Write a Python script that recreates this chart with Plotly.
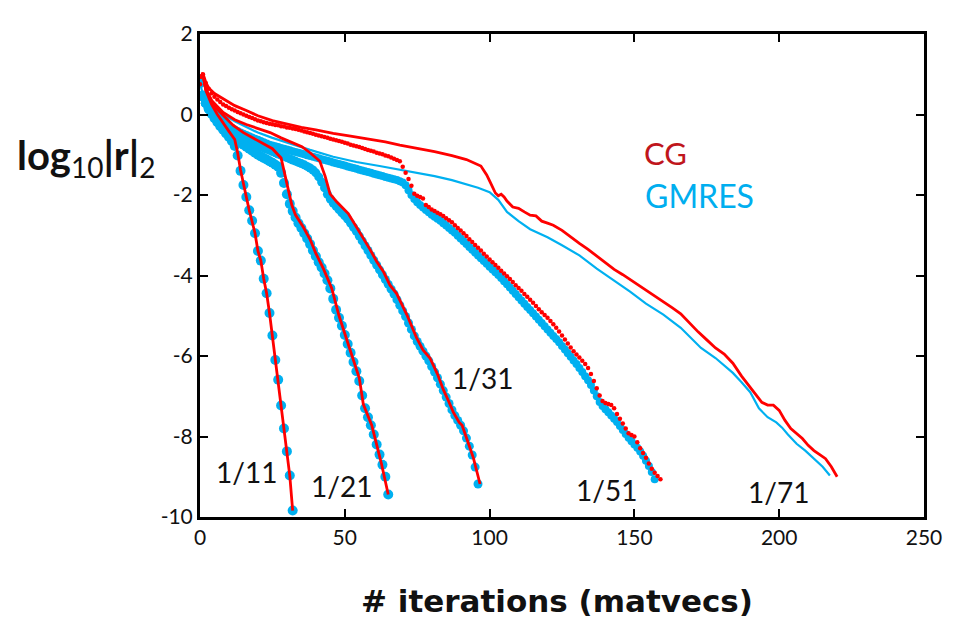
import plotly.graph_objects as go

# ---------------- data ----------------
# CG residual histories (solid red lines), log10 |r|_2 vs iteration
cg11_x = [0, 1, 2, 4, 6, 8, 10, 12, 13, 14, 15, 16, 17, 18, 19, 20, 21, 22, 23, 24, 25, 26, 27, 28, 29, 30, 31, 32]
cg11_y = [0.9, 1.02, 0.6, 0.25, 0.0, -0.22, -0.42, -0.62, -0.95, -1.38, -1.75, -2.05, -2.38, -2.64, -2.95, -3.39,
          -3.63, -4.08, -4.44, -4.93, -5.49, -6.10, -6.59, -7.23, -7.80, -8.37, -8.97, -9.84]

cg21_x = [0, 1, 2, 5, 8, 11.5, 15, 20, 25, 28, 29, 30, 31.7, 33, 35.7, 38, 40, 42.6, 45.5, 48, 50, 52, 55, 56.4,
          59.3, 61, 62.7, 65]
cg21_y = [0.9, 1.02, 0.62, 0.2, -0.02, -0.27, -0.45, -0.65, -0.85, -1.08, -1.4, -1.75, -2.25, -2.5, -2.8, -3.1,
          -3.45, -3.83, -4.32, -5.0, -5.45, -5.9, -6.55, -7.2, -7.72, -8.2, -8.69, -9.44]

cg31_x = [0, 1, 2, 4, 8, 12, 16, 20, 24.2, 28, 32, 35.2, 38, 41.4, 42.3, 43.2, 44.9, 47.2, 51.2, 54.1, 56, 58.7,
          61, 63.3, 65.6, 67.9, 71.4, 74.8, 77, 79.4, 82, 84, 86, 87.5, 89.5, 90.5, 92.1, 94.4, 96.7]
cg31_y = [0.9, 1.02, 0.64, 0.35, 0.05, -0.13, -0.25, -0.35, -0.45, -0.58, -0.7, -0.8, -0.95, -1.16, -1.35, -1.53,
          -1.97, -2.17, -2.46, -2.8, -3.05, -3.35, -3.65, -3.9, -4.24, -4.45, -4.97, -5.55, -5.85, -6.05, -6.45,
          -6.83, -7.15, -7.4, -7.65, -7.72, -8.05, -8.53, -9.18]

cg71_x = [0, 1, 2, 3, 5, 8, 12, 16, 20, 25, 30, 35, 40, 46, 52, 58, 64, 69, 75, 81, 87, 92, 97, 99, 100, 101, 102,
          103, 104, 105, 106, 108, 110, 112, 114, 116, 118, 120, 122, 125, 128, 131, 134, 137, 140, 143, 146, 148.5,
          152, 156, 160, 163, 166, 169, 172, 175, 178, 181, 184, 187, 190, 192, 194, 196, 198, 200, 202, 204, 206,
          208, 210, 212, 214, 216, 218, 220]
cg71_y = [0.9, 1.02, 0.8, 0.66, 0.52, 0.4, 0.22, 0.1, -0.03, -0.15, -0.24, -0.32, -0.38, -0.47, -0.54, -0.61,
          -0.68, -0.76, -0.84, -0.92, -1.02, -1.12, -1.28, -1.5, -1.65, -1.8, -1.95, -2.02, -1.98, -2.05, -2.15,
          -2.3, -2.33, -2.42, -2.5, -2.52, -2.65, -2.7, -2.75, -2.88, -3.05, -3.2, -3.35, -3.51, -3.68, -3.85,
          -3.98, -4.1, -4.27, -4.47, -4.64, -4.8, -4.95, -5.18, -5.4, -5.6, -5.8, -5.95, -6.18, -6.5, -6.78, -6.98,
          -7.15, -7.22, -7.22, -7.35, -7.6, -7.8, -7.93, -8.05, -8.22, -8.35, -8.45, -8.55, -8.75, -9.0]

# CG 1/51 (red dots, one per iteration 0..159)
cg51_y = [0.75, 1.00, 0.78, 0.64, 0.53, 0.44, 0.37, 0.31, 0.25, 0.21, 0.17,
          0.13, 0.10, 0.06, 0.03, 0.00, -0.03, -0.06, -0.09, -0.12, -0.15,
          -0.17, -0.19, -0.21, -0.23, -0.24, -0.26, -0.27, -0.29, -0.30, -0.32,
          -0.33, -0.35, -0.36, -0.38, -0.40, -0.42, -0.44, -0.46, -0.48, -0.50,
          -0.52, -0.54, -0.56, -0.58, -0.60, -0.62, -0.64, -0.66, -0.68, -0.70,
          -0.72, -0.75, -0.77, -0.79, -0.81, -0.83, -0.86, -0.88, -0.90, -0.92,
          -0.95, -0.97, -0.99, -1.02, -1.04, -1.07, -1.10, -1.13, -1.16, -1.30,
          -1.45, -1.60, -1.77, -1.97, -2.02, -2.05, -2.09, -2.25, -2.30, -2.36,
          -2.40, -2.44, -2.48, -2.52, -2.58, -2.63, -2.68, -2.75, -2.82, -2.88,
          -2.95, -3.02, -3.10, -3.17, -3.24, -3.31, -3.38, -3.46, -3.53, -3.60,
          -3.67, -3.74, -3.81, -3.88, -3.95, -4.02, -4.09, -4.16, -4.24, -4.31,
          -4.38, -4.46, -4.53, -4.60, -4.68, -4.76, -4.84, -4.91, -4.98, -5.05,
          -5.13, -5.21, -5.30, -5.39, -5.49, -5.59, -5.69, -5.79, -5.88, -5.96,
          -6.04, -6.12, -6.20, -6.30, -6.45, -6.62, -6.80, -6.98, -7.12, -7.17,
          -7.19, -7.22, -7.30, -7.44, -7.56, -7.68, -7.80, -7.92, -7.96, -8.00,
          -8.14, -8.29, -8.41, -8.53, -8.67, -8.80, -8.90, -8.98, -9.06]

# GMRES residual histories (blue circles, one per iteration)
gm11_y = [0.78, 0.45, 0.28, 0.14, 0.02, -0.09, -0.19, -0.29, -0.38, -0.47, -0.56, -0.66, -0.78, -1.02, -1.40,
          -1.75, -2.05, -2.38, -2.64, -2.95, -3.39, -3.63, -4.08, -4.44, -4.93, -5.49, -6.10, -6.59, -7.23, -7.80,
          -8.37, -8.97, -9.84]

gm21_y = [0.80, 0.45, 0.28, 0.15, 0.04, -0.06, -0.15, -0.23, -0.31, -0.38, -0.45,
          -0.52, -0.58, -0.64, -0.70, -0.75, -0.80, -0.85, -0.90, -0.95, -1.00,
          -1.04, -1.08, -1.12, -1.16, -1.20, -1.25, -1.30, -1.45, -1.70, -1.98,
          -2.22, -2.40, -2.56, -2.70, -2.82, -2.95, -3.08, -3.22, -3.38, -3.52,
          -3.67, -3.80, -3.95, -4.12, -4.32, -4.58, -4.85, -5.05, -5.25, -5.48,
          -5.70, -5.92, -6.15, -6.38, -6.62, -6.98, -7.30, -7.52, -7.72, -7.95,
          -8.20, -8.45, -8.70, -9.00, -9.44]

gm31_y = [0.80, 0.48, 0.30, 0.17, 0.07, -0.02, -0.10, -0.17, -0.24, -0.30, -0.36,
          -0.41, -0.46, -0.51, -0.55, -0.59, -0.63, -0.67, -0.71, -0.74, -0.77,
          -0.80, -0.83, -0.86, -0.89, -0.92, -0.95, -0.98, -1.01, -1.04, -1.07,
          -1.10, -1.13, -1.16, -1.19, -1.22, -1.25, -1.29, -1.33, -1.38, -1.45,
          -1.55, -1.68, -1.82, -1.98, -2.10, -2.20, -2.28, -2.36, -2.44, -2.52,
          -2.60, -2.70, -2.80, -2.90, -3.02, -3.14, -3.26, -3.38, -3.50, -3.62,
          -3.74, -3.86, -3.98, -4.10, -4.22, -4.34, -4.46, -4.60, -4.74, -4.88,
          -5.02, -5.18, -5.34, -5.50, -5.64, -5.76, -5.88, -6.00, -6.12, -6.26,
          -6.40, -6.54, -6.70, -6.86, -7.02, -7.18, -7.34, -7.48, -7.60, -7.72,
          -7.86, -8.04, -8.24, -8.46, -8.76, -9.18]

gm51_y = [0.80, 0.50, 0.35, 0.24, 0.14, 0.05, -0.03, -0.10, -0.17, -0.23, -0.28,
          -0.33, -0.37, -0.41, -0.45, -0.48, -0.51, -0.54, -0.57, -0.60, -0.63,
          -0.66, -0.69, -0.72, -0.75, -0.77, -0.79, -0.81, -0.83, -0.85, -0.87,
          -0.89, -0.91, -0.93, -0.95, -0.97, -0.99, -1.01, -1.03, -1.05, -1.07,
          -1.09, -1.11, -1.13, -1.15, -1.17, -1.19, -1.21, -1.23, -1.25, -1.27,
          -1.29, -1.31, -1.33, -1.35, -1.37, -1.39, -1.41, -1.43, -1.45, -1.47,
          -1.49, -1.51, -1.53, -1.55, -1.57, -1.59, -1.61, -1.63, -1.66, -1.69,
          -1.76, -1.88, -2.00, -2.10, -2.18, -2.25, -2.31, -2.37, -2.43, -2.49,
          -2.54, -2.59, -2.64, -2.70, -2.76, -2.82, -2.88, -2.94, -3.01, -3.08,
          -3.15, -3.22, -3.29, -3.36, -3.43, -3.50, -3.57, -3.64, -3.71, -3.78,
          -3.85, -3.92, -3.99, -4.06, -4.14, -4.22, -4.30, -4.38, -4.46, -4.54,
          -4.62, -4.70, -4.78, -4.86, -4.94, -5.02, -5.10, -5.18, -5.26, -5.34,
          -5.42, -5.50, -5.58, -5.66, -5.75, -5.84, -5.93, -6.02, -6.11, -6.20,
          -6.30, -6.40, -6.50, -6.60, -6.72, -6.86, -7.00, -7.14, -7.24, -7.32,
          -7.40, -7.48, -7.56, -7.64, -7.74, -7.84, -7.94, -8.03, -8.12, -8.20,
          -8.28, -8.37, -8.48, -8.60, -8.73, -8.88, -9.06]

# GMRES 1/71 (thin blue line)
gm71_x = [0, 1, 2, 4, 6, 8, 12, 16, 20, 25, 30, 38, 46, 54, 62, 69, 75, 81, 87, 92, 96, 100, 103, 106, 110, 114,
          120, 125, 131, 137, 143, 148.5, 154, 160, 166, 170, 173, 178, 184, 187, 190, 193, 196, 199, 201, 203, 206,
          209, 212, 215, 217.5]
gm71_y = [0.78, 0.5, 0.36, 0.18, 0.07, 0.0, -0.17, -0.32, -0.45, -0.58, -0.7, -0.88, -1.05, -1.18, -1.28, -1.37,
          -1.45, -1.53, -1.63, -1.73, -1.82, -1.93, -2.12, -2.42, -2.65, -2.85, -3.05, -3.25, -3.5, -3.83, -4.12,
          -4.4, -4.7, -4.97, -5.3, -5.6, -5.8, -6.05, -6.42, -6.65, -6.9, -7.3, -7.52, -7.65, -7.78, -7.95, -8.18,
          -8.35, -8.55, -8.75, -8.97]

grid_labels = ["1/11", "1/21", "1/31", "1/51", "1/71"]
grid_label_x = [16, 49, 97.7, 140.5, 199.6]
grid_label_y = [-8.88, -9.22, -6.55, -9.34, -9.37]

x_tickvals = [0, 50, 100, 150, 200, 250]
y_tickvals = [-10, -8, -6, -4, -2, 0, 2]
y_ticktext = ["-10", "-8", "-6", "-4", "-2", "0", "2"]

RED = "#ff0000"
BLUE = "#00b0f0"
FONT = "Lato, 'Open Sans', sans-serif"
WIDE = "'DejaVu Sans', Lato, sans-serif"

fig = go.Figure()

# GMRES markers / lines (drawn first, under the CG curves)
fig.add_trace(go.Scatter(x=gm71_x, y=gm71_y, mode="lines",
                         line=dict(color=BLUE, width=2.2), showlegend=False))
fig.add_trace(go.Scatter(x=list(range(len(gm51_y))), y=gm51_y, mode="markers",
                         marker=dict(color=BLUE, size=8, line=dict(width=0)), showlegend=False))
fig.add_trace(go.Scatter(x=list(range(len(gm31_y))), y=gm31_y, mode="markers",
                         marker=dict(color=BLUE, size=9, line=dict(width=0)), showlegend=False))
fig.add_trace(go.Scatter(x=list(range(len(gm21_y))), y=gm21_y, mode="markers",
                         marker=dict(color=BLUE, size=10, line=dict(width=0)), showlegend=False))
fig.add_trace(go.Scatter(x=list(range(len(gm11_y))), y=gm11_y, mode="markers",
                         marker=dict(color=BLUE, size=10, line=dict(width=0)), showlegend=False))

# CG curves
fig.add_trace(go.Scatter(x=list(range(len(cg51_y))), y=cg51_y, mode="markers",
                         marker=dict(color=RED, size=4.5, line=dict(width=0)), showlegend=False))
for xs, ys in [(cg71_x, cg71_y), (cg31_x, cg31_y), (cg21_x, cg21_y), (cg11_x, cg11_y)]:
    fig.add_trace(go.Scatter(x=xs, y=ys, mode="lines", line=dict(color=RED, width=2.8),
                             showlegend=False))

annotations = []
for t, ax_, ay_ in zip(grid_labels, grid_label_x, grid_label_y):
    annotations.append(dict(x=ax_, y=ay_, xref="x", yref="y", text=t, showarrow=False,
                            font=dict(family=FONT, size=28, color="#111111")))
annotations.append(dict(x=152.6, y=-0.96, xref="x", yref="y", text="CG", showarrow=False, xanchor="left",
                        font=dict(family=FONT, size=31, color="#c0161c")))
annotations.append(dict(x=153, y=-2.0, xref="x", yref="y", text="GMRES", showarrow=False, xanchor="left",
                        font=dict(family=FONT, size=32, color="#00aeef")))
annotations.append(dict(x=-0.255, y=0.745, xref="paper", yref="paper", xanchor="left", yanchor="middle",
                        text="<b>log</b><sub>10</sub><b>|r|</b><sub>2</sub>", showarrow=False,
                        font=dict(family=FONT, size=40, color="#111111")))
annotations.append(dict(x=0.493, y=-0.174, xref="paper", yref="paper", xanchor="center", yanchor="middle",
                        text="<b># iterations (matvecs)</b>", showarrow=False,
                        font=dict(family=WIDE, size=31, color="#111111")))

fig.update_layout(
    width=961, height=627,
    margin=dict(l=192, r=45, t=15, b=118),
    paper_bgcolor="white", plot_bgcolor="white",
    annotations=annotations,
    showlegend=False,
)
fig.update_xaxes(range=[0, 250], tickmode="array", tickvals=x_tickvals,
                 showgrid=False, zeroline=False, showline=True, linecolor="black", linewidth=3,
                 mirror="ticks", ticks="inside", ticklen=8, tickwidth=2, tickcolor="black",
                 tickfont=dict(family=FONT, size=21, color="#111111"))
fig.update_yaxes(range=[-10, 2], tickmode="array", tickvals=y_tickvals, ticktext=y_ticktext,
                 showgrid=False, zeroline=False, showline=True, linecolor="black", linewidth=3,
                 mirror="ticks", ticks="inside", ticklen=8, tickwidth=2, tickcolor="black",
                 tickfont=dict(family=FONT, size=21, color="#111111"))

fig.write_html("out.html")
